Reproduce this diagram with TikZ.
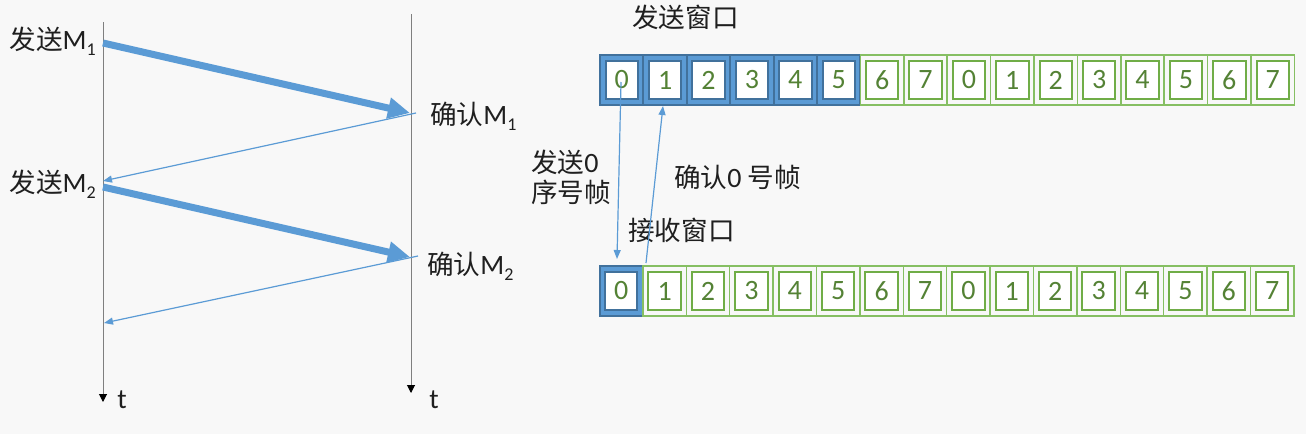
\documentclass[tikz,border=0pt]{standalone}
\usepackage{fontspec}
\setmainfont{Carlito}
\newfontfamily\cjk[Scale=0.95]{Noto Sans CJK SC}
\usetikzlibrary{arrows.meta}
\definecolor{bg}{HTML}{F8F8F8}
\definecolor{ablue}{HTML}{5B9BD5}
\definecolor{bdark}{HTML}{41719C}
\definecolor{gout}{HTML}{86BF63}
\definecolor{gin}{HTML}{70AD47}
\definecolor{gtext}{HTML}{548235}
\definecolor{tgray}{HTML}{7F7F7F}
\newcommand\mysub[1]{\raisebox{-0.22em}{\fontsize{18}{18}\selectfont #1}}
\begin{document}
\begin{tikzpicture}[x=1pt,y=-1pt,
  lbl/.style={font=\fontsize{28}{30}\selectfont, text=black!88, inner sep=0pt},
  gcell/.style={minimum width=43.4pt, minimum height=50pt, inner sep=0pt,
    draw=gout, line width=1.5pt, text=gtext, font=\fontsize{28}{30}\selectfont,
    path picture={\draw[draw=gin, line width=2pt, fill=white]
      ([xshift=5.5pt,yshift=-6pt]path picture bounding box.north west) rectangle
      ([xshift=-5.5pt,yshift=6pt]path picture bounding box.south east);}},
  bcell/.style={minimum width=43.4pt, minimum height=50pt, inner sep=0pt,
    draw=bdark, fill=ablue, line width=2pt, text=gtext, font=\fontsize{28}{30}\selectfont,
    path picture={\draw[draw=bdark, line width=2pt, fill=white]
      ([xshift=5.5pt,yshift=-6pt]path picture bounding box.north west) rectangle
      ([xshift=-5.5pt,yshift=6pt]path picture bounding box.south east);}},
  thickarrow/.style={draw=ablue, line width=7pt, -{Triangle[length=22pt,width=20pt]}},
  thinarrow/.style={draw=ablue, line width=1.2pt, -{Triangle[length=9pt,width=7pt]}},
  tline/.style={draw=tgray, line width=1pt, -{Triangle[length=8pt,width=8pt,color=black]}}
]
\fill[bg] (0,0) rectangle (1306,434);
\useasboundingbox (0,0) rectangle (1306,434);

% timelines
\coordinate (Ltop) at (103,22);
\coordinate (Lbot) at (103,402);
\coordinate (Rtop) at (411,14);
\coordinate (Rbot) at (411,393);
\draw[tline] (Ltop) -- (Lbot);
\draw[tline] (Rtop) -- (Rbot);
\node[lbl, anchor=center] (tL) at (122,400) {t};
\node[lbl, anchor=center] (tR) at (434,400) {t};

% event points
\coordinate (s1) at (103,43);
\coordinate (r1) at (410,113);
\coordinate (r1b) at (416,113);
\coordinate (a1) at (103,181);
\coordinate (s2) at (103,187);
\coordinate (r2) at (410,257);
\coordinate (r2b) at (418,256);
\coordinate (a2) at (104,323);
\draw[thickarrow] (s1) -- (r1);
\draw[thinarrow] (r1b) -- (a1);
\draw[thickarrow] (s2) -- (r2);
\draw[thinarrow] (r2b) -- (a2);

\node[lbl, anchor=east] (sendM1) at (96,41) {{\cjk 发送}M\mysub{1}};
\node[lbl, anchor=east] (sendM2) at (96,184) {{\cjk 发送}M\mysub{2}};
\node[lbl, anchor=west] (ackM1) at (430,116) {{\cjk 确认}M\mysub{1}};
\node[lbl, anchor=west] (ackM2) at (427,266) {{\cjk 确认}M\mysub{2}};

% sliding windows
\node[lbl, anchor=west] (sendwin) at (632,17) {\cjk 发送窗口};
\foreach \i in {0,...,5} {
  \node[bcell] (T\i) at ({621.7+43.4*\i},80) {\i};
}
\foreach \i in {6,...,15} {
  \pgfmathtruncatemacro\d{mod(\i,8)}
  \node[gcell] (T\i) at ({621.7+43.4*\i},80) {\d};
}
\node[bcell] (B0) at (621.2,291) {0};
\foreach \i in {1,...,15} {
  \pgfmathtruncatemacro\d{mod(\i,8)}
  \node[gcell] (B\i) at ({621.2+43.4*\i},291) {\d};
}

\node[lbl, anchor=west, align=left] (sendlbl) at (531,177) {{\cjk 发送}0\\{\cjk 序号帧}};
\node[lbl, anchor=west] (acklbl) at (674,177) {{\cjk 确认}0 {\cjk 号帧}};
\node[lbl, anchor=west] (recvwin) at (628,230) {\cjk 接收窗口};

\coordinate (d0) at (621,82);
\coordinate (d1) at (617,259);
\coordinate (u0) at (646,263);
\coordinate (u1) at (663,106);
\draw[thinarrow] (d0) -- (d1);
\draw[thinarrow] (u0) -- (u1);
\end{tikzpicture}
\end{document}
